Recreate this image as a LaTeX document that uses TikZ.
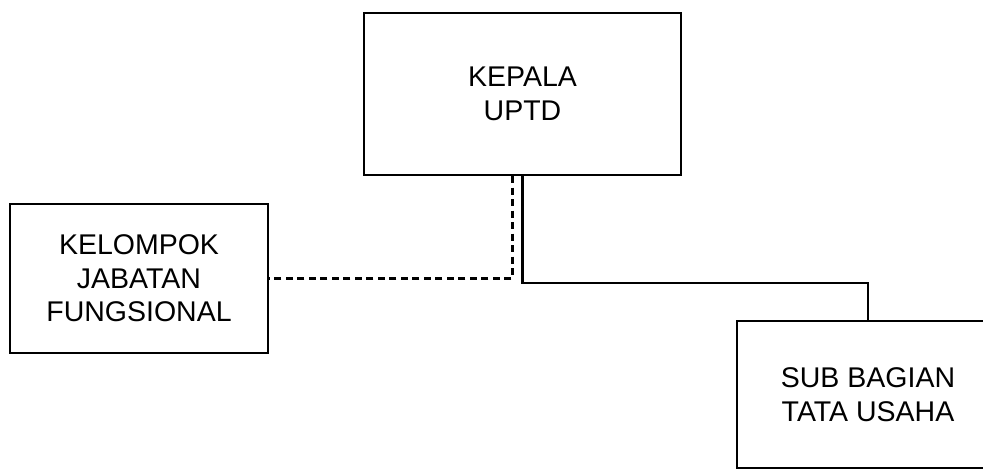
\documentclass[tikz,border=0pt]{standalone}
\usepackage{fontspec}
\setmainfont{Liberation Sans}
\usepackage{tikz}
\usetikzlibrary{positioning}

\begin{document}
\begin{tikzpicture}[x=1pt, y=-1pt,
    font=\fontsize{28.5}{33.5}\selectfont,
    unit/.style={draw, line width=2.2pt, align=center, inner sep=0pt},
    sline/.style={line width=2.2pt},
    dline/.style={line width=2.2pt, dash pattern=on 7pt off 4.5pt}]
    \useasboundingbox (0,0) rectangle (983,469);
    \node[unit, minimum width=317pt, minimum height=162pt] (kepala)   at (522.5,94)  {KEPALA\\UPTD};
    \node[unit, minimum width=258pt, minimum height=149pt] (kelompok) at (139,278.5) {KELOMPOK\\JABATAN\\FUNGSIONAL};
    \node[unit, minimum width=262pt, minimum height=147pt] (subbag)   at (868,394.5) {SUB BAGIAN\\TATA USAHA};
    \draw[dline] ([xshift=-10pt]kepala.south) |- (kelompok.east);
    \draw[sline] (kepala.south) -- ++(0,107) -| (subbag.north);
  \end{tikzpicture}
\end{document}
